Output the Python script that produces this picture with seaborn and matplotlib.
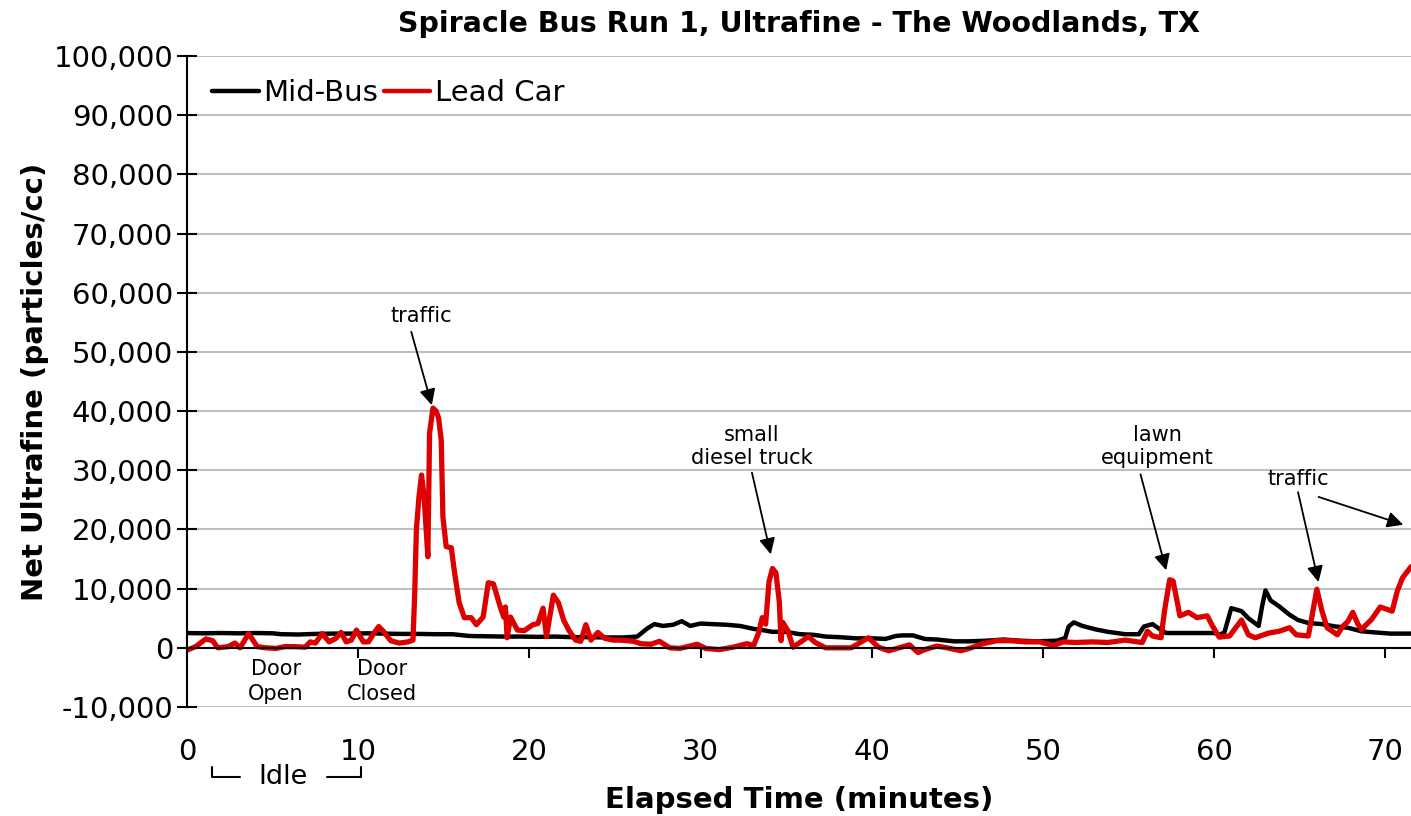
import matplotlib
matplotlib.use("Agg")
import matplotlib.pyplot as plt
import matplotlib.transforms as mtransforms
import numpy as np
import pandas as pd
import seaborn as sns
from matplotlib.ticker import FuncFormatter, MultipleLocator


TITLE = "Spiracle Bus Run 1, Ultrafine - The Woodlands, TX"
SERIES_NAMES = ["Mid-Bus", "Lead Car"]
SERIES_COLORS = {"Mid-Bus": "black", "Lead Car": "#dd0000"}

# Mid-Bus (black) readings, elapsed minutes / net particles per cc
bus_t = [0, 1, 2, 3, 4, 5, 5.5, 6.5, 7.5, 8.5, 9.5, 10.5, 11.5, 12.5, 13.5,
         14.5, 15.5, 16.5, 17.5, 18.5, 19.5, 20.5, 21.5, 22.5, 23.5, 24.5,
         25.5, 26.3, 26.6, 26.9, 27.3, 27.8, 28.4, 28.9, 29.4, 30.0, 30.7,
         31.5, 32.3, 33.1, 33.6, 34.2, 35.0, 35.8, 36.6, 37.3, 38.1, 39.1,
         40.1, 40.8, 41.4, 41.8, 42.4, 43.1, 43.8, 44.8, 45.7, 46.7, 47.7,
         48.7, 49.6, 50.8, 51.3, 51.5, 51.8, 52.3, 53.1, 53.8, 54.8, 55.6,
         55.9, 56.4, 56.9, 57.2, 58.0, 59.0, 60.0, 60.3, 60.6, 61.0, 61.6,
         62.0, 62.6, 62.8, 63.0, 63.3, 63.8, 64.4, 64.9, 65.5, 66.3, 67.1,
         67.8, 68.6, 69.4, 70.3, 71.5]
bus_v = [2500, 2450, 2500, 2450, 2500, 2450, 2300, 2250, 2350, 2400, 2400,
         2450, 2400, 2350, 2350, 2300, 2300, 2000, 1950, 1900, 1900, 1850,
         1900, 1800, 1800, 1750, 1750, 1900, 2600, 3300, 4000, 3700, 3900,
         4500, 3700, 4100, 4000, 3900, 3700, 3200, 3000, 2700, 2700, 2300,
         2200, 1900, 1800, 1600, 1600, 1500, 2000, 2100, 2100, 1500, 1400,
         1100, 1100, 1200, 1400, 1200, 1100, 1200, 1650, 3600, 4300, 3700,
         3100, 2700, 2300, 2300, 3600, 4000, 3000, 2500, 2500, 2500, 2500,
         2200, 2600, 6700, 6200, 5000, 3700, 7000, 9700, 8000, 7000, 5600,
         4700, 4200, 4000, 3600, 3400, 2800, 2600, 2400, 2400]

# Lead Car (red) readings
car_t = [0.0, 0.5, 1.1, 1.5, 1.8, 2.4, 2.8, 3.1, 3.6, 4.1, 4.6, 5.2, 5.7,
         6.3, 6.9, 7.2, 7.5, 7.9, 8.3, 8.7, 9.0, 9.3, 9.6, 9.9, 10.3, 10.6,
         10.9, 11.2, 11.5, 11.9, 12.4, 12.9, 13.2, 13.3, 13.4, 13.55, 13.7,
         13.85, 14.07, 14.17, 14.37, 14.55, 14.7, 14.85, 14.95, 15.14, 15.44,
         15.63, 15.9, 16.2, 16.6, 16.9, 17.3, 17.6, 17.9, 18.3, 18.5, 18.6,
         18.7, 18.9, 19.3, 19.7, 20.2, 20.5, 20.8, 21.0, 21.4, 21.7, 22.0,
         22.3, 22.7, 23.0, 23.3, 23.6, 24.0, 24.4, 24.9, 25.3, 26.1, 26.5,
         27.1, 27.6, 28.2, 28.8, 29.8, 30.3, 31.1, 31.9, 32.7, 33.1, 33.4,
         33.6, 33.8, 34.0, 34.2, 34.4, 34.6, 34.7, 34.8, 35.1, 35.4, 35.8,
         36.3, 36.7, 37.3, 38.1, 38.8, 39.8, 40.4, 41.0, 41.6, 42.2, 42.7,
         43.1, 43.8, 44.4, 45.2, 45.7, 46.5, 47.3, 48.1, 49.0, 49.8, 50.6,
         51.2, 51.9, 52.9, 53.8, 54.8, 55.8, 56.1, 56.4, 56.9, 57.1, 57.4,
         57.6, 57.8, 58.0, 58.5, 59.0, 59.6, 59.9, 60.3, 60.9, 61.6, 62.0,
         62.4, 63.2, 63.8, 64.4, 64.8, 65.5, 65.7, 66.0, 66.3, 66.6, 67.2,
         67.5, 67.8, 68.1, 68.4, 68.6, 69.2, 69.7, 70.4, 70.7, 71.0, 71.5]
car_v = [-400, 200, 1500, 1200, 0, 200, 800, 0, 2400, 200, 0, -100, 200,
         200, 100, 1000, 800, 2400, 1000, 1600, 2600, 1000, 1300, 3000, 1000,
         1000, 2400, 3600, 2700, 1200, 800, 1000, 1300, 9000, 20000, 25500,
         29200, 25500, 15400, 36300, 40500, 40000, 38800, 35100, 22100, 17100,
         16900, 12700, 7600, 5100, 5100, 3900, 5200, 11000, 10800, 6900, 5200,
         6900, 1700, 5200, 3000, 2900, 3900, 4100, 6700, 1900, 8900, 7600,
         4700, 3000, 1300, 1100, 3900, 1300, 2600, 1600, 1300, 1300, 1100,
         700, 600, 1100, 0, -100, 600, -100, -300, 100, 700, 400, 2600, 5100,
         4000, 11200, 13400, 12700, 7800, 1200, 4300, 2900, 100, 900, 1900,
         900, 0, 0, 0, 1700, 100, -500, 0, 500, -800, -300, 300, 0, -500,
         -100, 700, 1200, 1200, 1000, 1000, 400, 1000, 900, 1000, 900, 1300,
         900, 2800, 2000, 1700, 6200, 11500, 11300, 8400, 5400, 6000, 5100,
         5400, 3700, 1800, 2000, 4700, 2200, 1700, 2500, 2800, 3400, 2200,
         2000, 5100, 9900, 6200, 3400, 2200, 3600, 4400, 6000, 4000, 3100,
         4800, 6900, 6200, 9600, 11800, 13700]

# notes: (text, text x, text y) and arrows: (from x, from y, to x, to y)
note_texts = ["traffic", "small\ndiesel truck", "lawn\nequipment", "traffic"]
note_x = [13.7, 33.0, 56.7, 64.9]
note_y = [56000, 34000, 34000, 28600]
arrow_from = [(13.1, 53400), (33.0, 29600), (55.7, 29300), (64.9, 26300), (66.1, 25500)]
arrow_to = [(14.3, 41000), (34.1, 15800), (57.2, 13100), (66.1, 11100), (71.05, 20800)]

door_texts = ["Door\nOpen", "Door\nClosed"]
door_x = [5.2, 11.4]
door_y = -5700

X_TICKS = [0, 10, 20, 30, 40, 50, 60, 70]
X_MAX = 71.5
Y_MIN, Y_MAX = -10000, 100000

df = pd.concat([
    pd.DataFrame({"t": bus_t, "v": bus_v, "series": "Mid-Bus"}),
    pd.DataFrame({"t": car_t, "v": car_v, "series": "Lead Car"}),
], ignore_index=True)

sns.set_theme(style="white")
plt.rcParams["font.family"] = ["DejaVu Sans"]
plt.rcParams["text.color"] = "black"
plt.rcParams["axes.labelcolor"] = "black"
plt.rcParams["xtick.color"] = "black"
plt.rcParams["ytick.color"] = "black"

fig = plt.figure(figsize=(14.11, 8.16), dpi=100)
ax = fig.add_axes([187 / 1411, 1 - 707 / 816, 1 - 187 / 1411, (707 - 56) / 816])

sns.lineplot(data=df, x="t", y="v", hue="series", hue_order=SERIES_NAMES,
             palette=SERIES_COLORS, estimator=None, sort=False, ax=ax,
             linewidth=3.2)
ax.lines[0].set_linewidth(3.2)
ax.lines[1].set_linewidth(3.8)

ax.set_xlim(0, X_MAX)
ax.set_ylim(Y_MIN, Y_MAX)
ax.yaxis.set_major_locator(MultipleLocator(10000))
ax.yaxis.set_major_formatter(FuncFormatter(lambda v, p: f"{v:,.0f}"))
ax.set_xticks(X_TICKS)
ax.grid(axis="y", color="#c0c0c0", linewidth=1.5)
ax.grid(axis="x", visible=False)
ax.set_axisbelow(True)

for side in ["top", "right"]:
    ax.spines[side].set_visible(False)
ax.spines["left"].set_color("black")
ax.spines["left"].set_linewidth(1.5)
ax.spines["bottom"].set_position(("data", 0))
ax.spines["bottom"].set_color("black")
ax.spines["bottom"].set_linewidth(1.5)

ax.tick_params(axis="x", which="both", bottom=True, labelbottom=False,
               direction="out", length=7, width=1.5, color="black")
ax.tick_params(axis="y", left=True, direction="inout", length=14, width=1.5,
               color="black", labelsize=21, pad=3)

sec = ax.secondary_xaxis("bottom")
sec.set_xticks(X_TICKS)
sec.tick_params(length=0, labelsize=21, pad=22)
sec.spines["bottom"].set_visible(False)
sec.set_xlabel("Elapsed Time (minutes)", fontsize=21, fontweight="bold", labelpad=15)

ax.set_xlabel("")
ax.set_ylabel("Net Ultrafine (particles/cc)", fontsize=21, fontweight="bold", labelpad=3)
ax.set_title(TITLE, fontsize=20.5, fontweight="bold", pad=17)

handles, labels = ax.get_legend_handles_labels()
ax.legend(handles, labels, loc="upper left", bbox_to_anchor=(-0.001, 1.005),
          ncol=2, frameon=False, fontsize=21, handlelength=1.6,
          handletextpad=0.15, columnspacing=0.2)

for txt, tx, ty in zip(note_texts, note_x, note_y):
    ax.text(tx, ty, txt, ha="center", va="center", fontsize=15, linespacing=1.2)
for (x0, y0), (x1, y1) in zip(arrow_from, arrow_to):
    ax.annotate("", xy=(x1, y1), xytext=(x0, y0),
                arrowprops=dict(arrowstyle="-|>", color="black", lw=1.3,
                                mutation_scale=24, shrinkA=0, shrinkB=0))

for txt, tx in zip(door_texts, door_x):
    ax.text(tx, door_y, txt, ha="center", va="center", fontsize=15, linespacing=1.3)

# Idle bracket under the axis
trans = mtransforms.blended_transform_factory(ax.transData, ax.transAxes)
ax.plot([1.44, 1.44, 3.1], [-0.0917, -0.107, -0.107], color="black", lw=1.5,
        transform=trans, clip_on=False)
ax.plot([8.16, 10.16, 10.16], [-0.107, -0.107, -0.0917], color="black", lw=1.5,
        transform=trans, clip_on=False)
ax.text(5.6, -0.107, "Idle", ha="center", va="center", fontsize=19.5,
        transform=trans)

fig.savefig("out.png", dpi=100)
